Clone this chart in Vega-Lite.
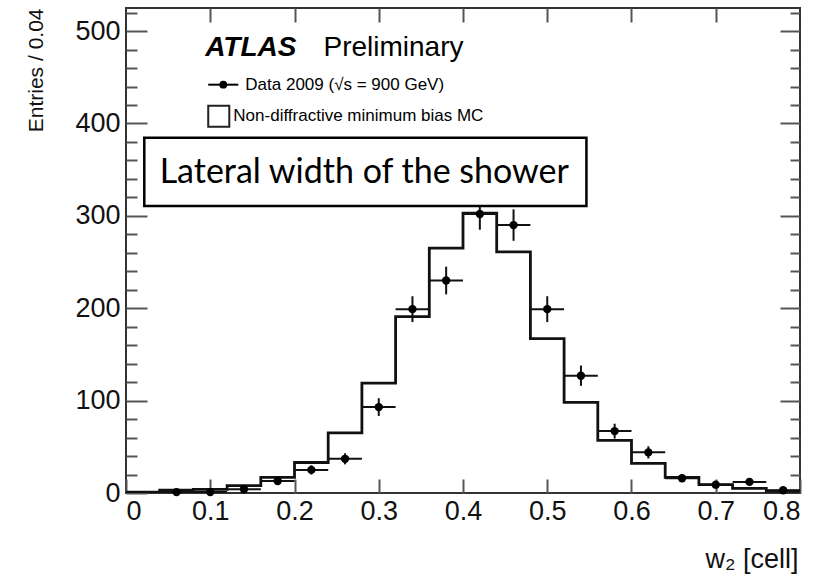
{
  "$schema": "https://vega.github.io/schema/vega-lite/v6.json",
  "autosize": {"type": "none"},
  "width": 674,
  "height": 485,
  "padding": {"left": 126, "top": 8, "right": 38, "bottom": 85},
  "background": "white",
  "config": {
    "view": {"stroke": "#333", "strokeWidth": 2},
    "axis": {
      "grid": false,
      "domain": false,
      "labelFont": "Liberation Sans",
      "labelFontSize": 27,
      "labelColor": "#111",
      "titleFont": "Liberation Sans",
      "titleFontWeight": "normal",
      "titleColor": "#111",
      "tickColor": "#555",
      "tickWidth": 2
    }
  },
  "datasets": {
    "bins": [
      {"lo": 0.04, "hi": 0.08, "c": 0.06, "n": 1, "ylo": 0, "yhi": 2},
      {"lo": 0.08, "hi": 0.12, "c": 0.10, "n": 1, "ylo": 0, "yhi": 2},
      {"lo": 0.12, "hi": 0.16, "c": 0.14, "n": 4, "ylo": 2, "yhi": 6},
      {"lo": 0.16, "hi": 0.20, "c": 0.18, "n": 13, "ylo": 9.4, "yhi": 16.6},
      {"lo": 0.20, "hi": 0.24, "c": 0.22, "n": 25, "ylo": 20, "yhi": 30},
      {"lo": 0.24, "hi": 0.28, "c": 0.26, "n": 37, "ylo": 31, "yhi": 43},
      {"lo": 0.28, "hi": 0.32, "c": 0.30, "n": 93, "ylo": 83.4, "yhi": 102.6},
      {"lo": 0.32, "hi": 0.36, "c": 0.34, "n": 199, "ylo": 185, "yhi": 213},
      {"lo": 0.36, "hi": 0.40, "c": 0.38, "n": 230, "ylo": 215, "yhi": 245},
      {"lo": 0.40, "hi": 0.44, "c": 0.42, "n": 302, "ylo": 285, "yhi": 319},
      {"lo": 0.44, "hi": 0.48, "c": 0.46, "n": 290, "ylo": 273, "yhi": 307},
      {"lo": 0.48, "hi": 0.52, "c": 0.50, "n": 199, "ylo": 185, "yhi": 213},
      {"lo": 0.52, "hi": 0.56, "c": 0.54, "n": 127, "ylo": 116, "yhi": 138},
      {"lo": 0.56, "hi": 0.60, "c": 0.58, "n": 67, "ylo": 59, "yhi": 75},
      {"lo": 0.60, "hi": 0.64, "c": 0.62, "n": 44, "ylo": 37.4, "yhi": 50.6},
      {"lo": 0.64, "hi": 0.68, "c": 0.66, "n": 16, "ylo": 12, "yhi": 20},
      {"lo": 0.68, "hi": 0.72, "c": 0.70, "n": 9, "ylo": 6, "yhi": 12},
      {"lo": 0.72, "hi": 0.76, "c": 0.74, "n": 12, "ylo": 8.5, "yhi": 15.5},
      {"lo": 0.76, "hi": 0.80, "c": 0.78, "n": 3, "ylo": 1.3, "yhi": 4.7}
    ],
    "mc": [
      {"edge": 0.00, "mc": 1},
      {"edge": 0.04, "mc": 3},
      {"edge": 0.08, "mc": 4},
      {"edge": 0.12, "mc": 8},
      {"edge": 0.16, "mc": 17},
      {"edge": 0.20, "mc": 33},
      {"edge": 0.24, "mc": 65},
      {"edge": 0.28, "mc": 119},
      {"edge": 0.32, "mc": 191},
      {"edge": 0.36, "mc": 265},
      {"edge": 0.40, "mc": 303},
      {"edge": 0.44, "mc": 261},
      {"edge": 0.48, "mc": 167},
      {"edge": 0.52, "mc": 98},
      {"edge": 0.56, "mc": 57},
      {"edge": 0.60, "mc": 32},
      {"edge": 0.64, "mc": 17},
      {"edge": 0.68, "mc": 9},
      {"edge": 0.72, "mc": 5},
      {"edge": 0.76, "mc": 2},
      {"edge": 0.80, "mc": 2}
    ]
  },
  "resolve": {"axis": {"x": "independent", "y": "independent"}},
  "layer": [
    {
      "data": {"name": "mc"},
      "mark": {"type": "line", "interpolate": "step-after", "color": "#111", "strokeWidth": 2.8, "clip": true},
      "encoding": {
        "x": {"field": "edge", "type": "quantitative", "scale": {"domain": [0, 0.8], "nice": false, "zero": false},
          "axis": {"orient": "bottom", "values": [0, 0.1, 0.2, 0.3, 0.4, 0.5, 0.6, 0.7, 0.8], "format": ".1~f", "tickSize": -14, "labelPadding": 19, "title": "w₂ [cell]", "titleFontSize": 27, "titleAnchor": "end", "titleAlign": "right", "titleBaseline": "alphabetic", "titleX": 672, "titleY": 74}},
        "y": {"field": "mc", "type": "quantitative", "scale": {"domain": [0, 525], "nice": false, "zero": true},
          "axis": {"orient": "left", "values": [0, 100, 200, 300, 400, 500], "tickSize": -21, "labelPadding": 27, "title": "Entries / 0.04", "titleFontSize": 21, "titleAngle": -90, "titleAlign": "right", "titleBaseline": "alphabetic", "titleX": -84, "titleY": 0}}
      }
    },
    {
      "data": {"name": "bins"},
      "mark": {"type": "rule", "color": "#111", "strokeWidth": 2},
      "encoding": {
        "x": {"field": "lo", "type": "quantitative", "scale": {"domain": [0, 0.8], "nice": false, "zero": false},
          "axis": {"orient": "top", "values": [0.1, 0.2, 0.3, 0.4, 0.5, 0.6, 0.7], "tickSize": -14, "labels": false, "title": null}},
        "x2": {"field": "hi"},
        "y": {"field": "n", "type": "quantitative", "scale": {"domain": [0, 525], "nice": false, "zero": true},
          "axis": {"orient": "left", "values": [20, 40, 60, 80, 120, 140, 160, 180, 220, 240, 260, 280, 320, 340, 360, 380, 420, 440, 460, 480, 520], "tickSize": -11, "labels": false, "title": null}}
      }
    },
    {
      "data": {"name": "bins"},
      "mark": {"type": "rule", "color": "#111", "strokeWidth": 2},
      "encoding": {
        "x": {"field": "c", "type": "quantitative", "scale": {"domain": [0, 0.8], "nice": false, "zero": false}, "axis": null},
        "y": {"field": "ylo", "type": "quantitative", "scale": {"domain": [0, 525], "nice": false, "zero": true},
          "axis": {"orient": "right", "values": [100, 200, 300, 400, 500], "tickSize": -20, "labels": false, "title": null}},
        "y2": {"field": "yhi"}
      }
    },
    {
      "data": {"name": "bins"},
      "mark": {"type": "circle", "color": "#000", "opacity": 1, "size": 70},
      "encoding": {
        "x": {"field": "c", "type": "quantitative", "scale": {"domain": [0, 0.8], "nice": false, "zero": false}, "axis": null},
        "y": {"field": "n", "type": "quantitative", "scale": {"domain": [0, 525], "nice": false, "zero": true},
          "axis": {"orient": "right", "values": [20, 40, 60, 80, 120, 140, 160, 180, 220, 240, 260, 280, 320, 340, 360, 380, 420, 440, 460, 480, 520], "tickSize": -10, "labels": false, "title": null}}
      }
    },
    {
      "data": {"values": [{"x1": 0.0217, "x2": 0.5465, "y1": 384.6, "y2": 310.8}]},
      "mark": {"type": "rect", "fill": "white", "stroke": "#000", "strokeWidth": 2.5},
      "encoding": {
        "x": {"field": "x1", "type": "quantitative", "scale": {"domain": [0, 0.8], "nice": false, "zero": false}, "axis": null},
        "x2": {"field": "x2"},
        "y": {"field": "y1", "type": "quantitative", "scale": {"domain": [0, 525], "nice": false, "zero": true}, "axis": null},
        "y2": {"field": "y2"}
      }
    },
    {
      "data": {"values": [{"x": 0.2828, "y": 346.5, "t": "Lateral width of the shower"}]},
      "mark": {"type": "text", "font": "Lato", "fontSize": 34, "align": "center", "baseline": "middle", "color": "#000"},
      "encoding": {
        "x": {"field": "x", "type": "quantitative", "scale": {"domain": [0, 0.8], "nice": false, "zero": false}, "axis": null},
        "y": {"field": "y", "type": "quantitative", "scale": {"domain": [0, 525], "nice": false, "zero": true}, "axis": null},
        "text": {"field": "t"}
      }
    },
    {
      "data": {"values": [{"x": 0.094, "y": 473, "t": "ATLAS"}]},
      "mark": {"type": "text", "font": "Liberation Sans", "fontSize": 28, "fontWeight": "bold", "fontStyle": "italic", "align": "left", "baseline": "alphabetic", "color": "#000"},
      "encoding": {
        "x": {"field": "x", "type": "quantitative", "scale": {"domain": [0, 0.8], "nice": false, "zero": false}, "axis": null},
        "y": {"field": "y", "type": "quantitative", "scale": {"domain": [0, 525], "nice": false, "zero": true}, "axis": null},
        "text": {"field": "t"}
      }
    },
    {
      "data": {"values": [{"x": 0.2344, "y": 473, "t": "Preliminary"}]},
      "mark": {"type": "text", "font": "Liberation Sans", "fontSize": 28, "align": "left", "baseline": "alphabetic", "color": "#000"},
      "encoding": {
        "x": {"field": "x", "type": "quantitative", "scale": {"domain": [0, 0.8], "nice": false, "zero": false}, "axis": null},
        "y": {"field": "y", "type": "quantitative", "scale": {"domain": [0, 525], "nice": false, "zero": true}, "axis": null},
        "text": {"field": "t"}
      }
    },
    {
      "data": {"values": [{"x": 0.1416, "y": 442, "t": "Data 2009 (√s = 900 GeV)"}, {"x": 0.1274, "y": 408.5, "t": "Non-diffractive minimum bias MC"}]},
      "mark": {"type": "text", "font": "Liberation Sans", "fontSize": 17, "align": "left", "baseline": "middle", "color": "#000"},
      "encoding": {
        "x": {"field": "x", "type": "quantitative", "scale": {"domain": [0, 0.8], "nice": false, "zero": false}, "axis": null},
        "y": {"field": "y", "type": "quantitative", "scale": {"domain": [0, 525], "nice": false, "zero": true}, "axis": null},
        "text": {"field": "t"}
      }
    },
    {
      "data": {"values": [{"x1": 0.0976, "x2": 0.1333, "y": 442}]},
      "mark": {"type": "rule", "color": "#000", "strokeWidth": 2},
      "encoding": {
        "x": {"field": "x1", "type": "quantitative", "scale": {"domain": [0, 0.8], "nice": false, "zero": false}, "axis": null},
        "x2": {"field": "x2"},
        "y": {"field": "y", "type": "quantitative", "scale": {"domain": [0, 525], "nice": false, "zero": true}, "axis": null}
      }
    },
    {
      "data": {"values": [{"x": 0.1155, "y": 442}]},
      "mark": {"type": "circle", "color": "#000", "opacity": 1, "size": 60},
      "encoding": {
        "x": {"field": "x", "type": "quantitative", "scale": {"domain": [0, 0.8], "nice": false, "zero": false}, "axis": null},
        "y": {"field": "y", "type": "quantitative", "scale": {"domain": [0, 525], "nice": false, "zero": true}, "axis": null}
      }
    },
    {
      "data": {"values": [{"x1": 0.0976, "x2": 0.1226, "y1": 419.3, "y2": 396.5}]},
      "mark": {"type": "rect", "fill": "white", "stroke": "#222", "strokeWidth": 2},
      "encoding": {
        "x": {"field": "x1", "type": "quantitative", "scale": {"domain": [0, 0.8], "nice": false, "zero": false}, "axis": null},
        "x2": {"field": "x2"},
        "y": {"field": "y1", "type": "quantitative", "scale": {"domain": [0, 525], "nice": false, "zero": true}, "axis": null},
        "y2": {"field": "y2"}
      }
    }
  ]
}
